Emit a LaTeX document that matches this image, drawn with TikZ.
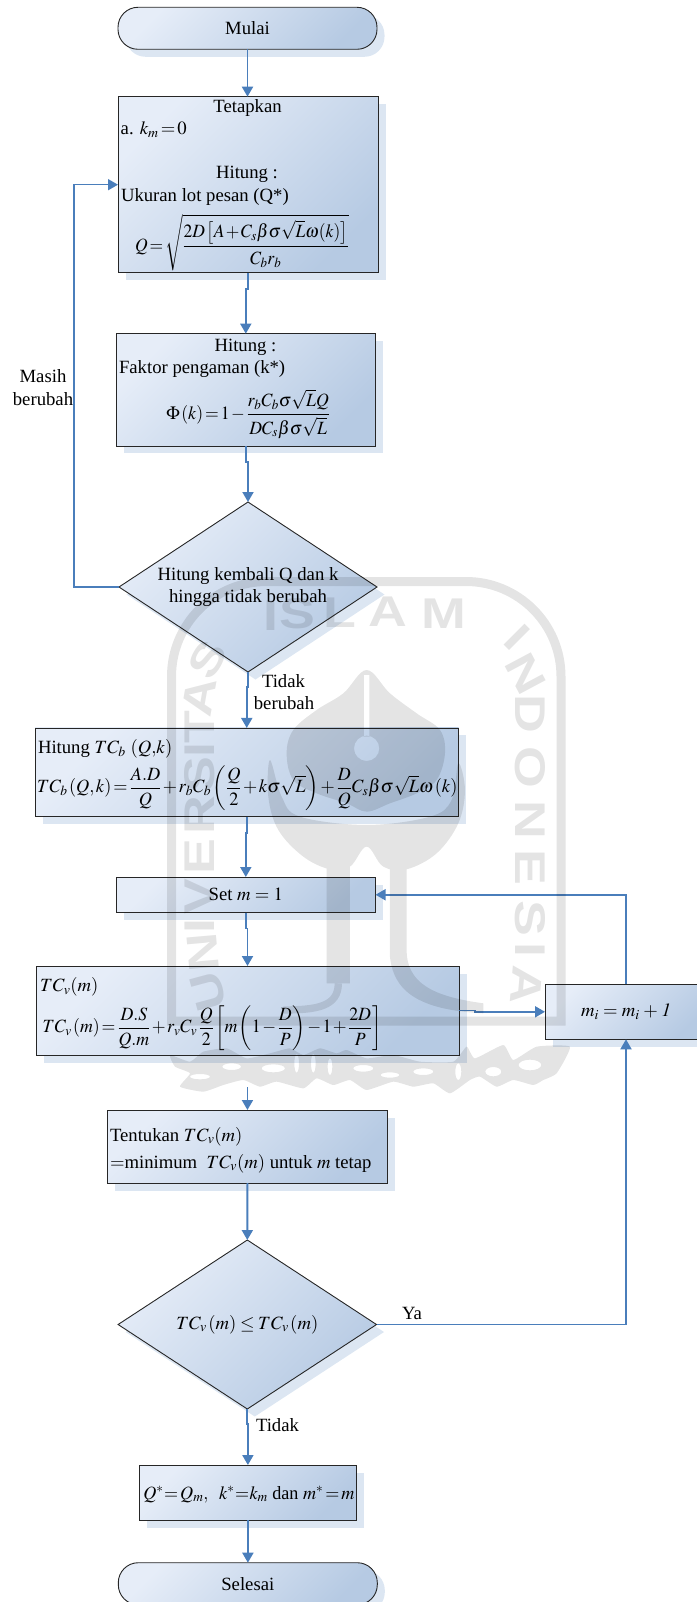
\documentclass[tikz,border=0pt]{standalone}
\usepackage{amsmath}
\usepackage{mathptmx}
\usepackage[no-math]{fontspec}
\setmainfont{Liberation Serif}
\newfontfamily\wmfont[FakeStretch=1.25]{Liberation Sans}
\usetikzlibrary{arrows.meta,shapes.geometric,shadows}
\thinmuskip=1.5mu
\medmuskip=1.5mu
\thickmuskip=2mu
\definecolor{flowline}{HTML}{4A7EBB}
\definecolor{fillA}{HTML}{E6EDF8}
\definecolor{fillB}{HTML}{BED0E7}
\definecolor{fillC}{HTML}{B6CAE3}
\definecolor{shadowblue}{HTML}{DCE6F2}
\tikzset{
  flowshape/.style={draw=black!85,line width=0.9pt,inner sep=0pt,outer sep=0pt,
    top color=fillA,middle color=fillB,bottom color=fillC,shading angle=45,
    general shadow={shadow xshift=7.5pt,shadow yshift=-7.5pt,fill=shadowblue,opacity=1}},
  flowbox/.style={flowshape,rectangle},
  flowterm/.style={flowshape,rectangle,rounded corners=20pt},
  flowdec/.style={flowshape,diamond},
  flowarrow/.style={draw=flowline,line width=1.9pt,-{Triangle[width=11pt,length=10pt]}},
  flowtxt/.style={inner sep=0pt,outer sep=0pt,font=\fontsize{18.7}{22}\selectfont},
  tl/.style={flowtxt,anchor=base west},
  tc/.style={flowtxt,anchor=base},
  fm/.style={flowtxt,anchor=west},
  wml/.style={inner sep=0pt,font=\wmfont\bfseries\fontsize{43}{43}\selectfont,text=black},
}
\begin{document}
\begin{tikzpicture}[x=1pt,y=-1pt]
\useasboundingbox (0,0) rectangle (696,1602);
% shapes
\node[flowterm,minimum width=259pt,minimum height=42pt,font=\fontsize{18.7}{22}\selectfont] (mulai) at (247.5,28.3) {Mulai};
\node[flowbox,minimum width=260pt,minimum height=176pt] (b1) at (248,184.7) {};
\node[flowbox,minimum width=259.5pt,minimum height=112.3pt] (b2) at (245.8,389.8) {};
\node[flowdec,minimum width=258pt,minimum height=170pt,shape aspect=1.518,align=center,font=\fontsize{18.7}{22}\selectfont] (d1) at (248,587) {Hitung kembali Q dan k\\hingga tidak berubah};
\node[flowbox,minimum width=423.5pt,minimum height=88.7pt] (b3) at (246.75,772.3) {};
\node[flowbox,minimum width=259.5pt,minimum height=35.5pt,font=\fontsize{18.7}{22}\selectfont] (setm) at (245.8,894.75) {Set $m\;=\;1$};
\node[flowbox,minimum width=423pt,minimum height=89pt] (tcv) at (247.5,1010.5) {};
\node[flowbox,minimum width=162pt,minimum height=55pt,font=\fontsize{18.7}{22}\selectfont] (mi) at (626,1011.8) {$m_i\;=\;m_i\;+\;\mathit{1}$};
\node[flowbox,minimum width=280pt,minimum height=73pt] (tm) at (247.45,1146.5) {};
\node[flowdec,minimum width=258.4pt,minimum height=169pt,shape aspect=1.529,font=\fontsize{18.7}{22}\selectfont] (d2) at (247.3,1324.5) {$TC_v\,(m)\,\le\, TC_v\,(m)$};
\node[flowbox,minimum width=217pt,minimum height=55pt] (res) at (247.9,1492.5) {};
\node[flowterm,minimum width=259pt,minimum height=42pt,font=\fontsize{18.7}{22}\selectfont] (sel) at (247.8,1583.7) {Selesai};
% box texts
\node[tc] (t1) at (247.5,113) {Tetapkan};
\node[tl] (t2) at (120.7,135) {a. $k_m=0$};
\node[tc] (t3) at (247,179) {Hitung :};
\node[tl] (t4) at (121,201.7) {Ukuran lot pesan (Q*)};
\node[fm] (f1) at (135,242.7) {\scalebox{0.935}[1]{$Q=\sqrt{\dfrac{2D\left[A+C_s\beta\sigma\sqrt{L}\omega(k)\right]}{C_br_b}}$}};
\node[tc] (t5) at (245.5,351) {Hitung :};
\node[tl] (t6) at (119,373) {Faktor pengaman (k*)};
\node[fm] (f2) at (166.4,414) {\scalebox{0.945}[1]{$\Phi\left(k\right)=1-\dfrac{r_bC_b\sigma\sqrt{L}Q}{DC_s\beta\sigma\sqrt{L}}$}};
\node[tl] (t7) at (38,753.3) {Hitung $TC_b$ $(Q{,}k)$};
\node[fm] (f3) at (37,788) {\scalebox{0.977}[1]{$TC_b\left(Q,k\right)=\dfrac{A.D}{Q}+r_bC_b\left(\dfrac{Q}{2}+k\sigma\sqrt{L}\right)+\dfrac{D}{Q}C_s\beta\sigma\sqrt{L}\omega\left(k\right)$}};
\node[tl] (t8) at (40,991.7) {$TC_v(m)$};
\node[fm] (f4) at (42.7,1028) {\scalebox{0.95}[1]{$TC_v\left(m\right)=\dfrac{D.S}{Q.m}+r_vC_v\,\dfrac{Q}{2}\left[m\left(1-\dfrac{D}{P}\right)-1+\dfrac{2D}{P}\right]$}};
\node[tl] (t9) at (110,1141) {Tentukan $TC_v(m)$};
\node[tl] (t10) at (110,1168) {$=$minimum\ \ $TC_v(m)$ untuk $m$ tetap};
\node[tl] (t11) at (143.4,1499) {\scalebox{0.968}[1]{$Q^*\!=Q_m,\ \ k^*\!=\!k_m$ dan $m^*=m$}};
% connector labels
\node[tc] (l1) at (43,382.7) {Masih};
\node[tc] (l2) at (43,405) {berubah};
\node[tc] (l3) at (283.5,687.7) {Tidak};
\node[tc] (l4) at (284,709) {berubah};
\node[tc] (l5) at (412,1319) {Ya};
\node[tl] (l6) at (256,1431) {Tidak};
% connectors
\coordinate (fb) at (74,587);
\coordinate (gap) at (247.45,1087);
\draw[flowarrow] (mulai.south) -- (mulai.south |- b1.north);
\draw[flowarrow] (b1.south) -- ++(0,16) -| (b2.north);
\draw[flowarrow] (b2.south) -- ++(0,16) -| (d1.north);
\draw[flowarrow,line width=1.6pt] (d1.west) -- (fb) |- (b1.west);
\draw[flowarrow] (d1.south) -- ++(0,15) -| (b3.north);
\draw[flowarrow] (b3.south) -- ++(0,16) -| (setm.north);
\draw[flowarrow] (setm.south) -- ++(0,16) -| (tcv.north);
\draw[flowarrow] (tcv.east) -- ++(16,0) |- (mi.west);
\draw[flowarrow] (mi.north) |- (setm.east);
\draw[flowarrow] (gap) -- (tm.north);
\draw[flowarrow] (tm.south) -- (d2.north);
\draw[flowarrow] (d2.south) -- ++(0,15) -| (res.north);
\draw[flowarrow] (res.south) -- (res.south |- sel.north);
\draw[flowarrow] (d2.east) -| (mi.south);
% watermark
\begin{scope}[transparency group,opacity=.105]
  \draw[line width=9pt,black] (171.5,1021) [rounded corners=95pt] -- (171.5,581.5) -- (561,581.5) [sharp corners] -- (561,1021) -- cycle;
  \node[wml] (wi1) at (271,616) {I};
  \node[wml] (ws1) at (297,614) {S};
  \node[wml] (wl1) at (340,613) {L};
  \node[wml] (wa1) at (388,612) {A};
  \node[wml] (wm1) at (444,614) {M};
  \node[wml,rotate=-45] (wi2) at (517,637) {I};
  \node[wml,rotate=-62] (wn2) at (526,674) {N};
  \node[wml,rotate=-90] (wd2) at (530,714) {D};
  \node[wml,rotate=-90] (wo2) at (530,767) {O};
  \node[wml,rotate=-90] (wn3) at (530,820) {N};
  \node[wml,rotate=-90] (we2) at (530,867) {E};
  \node[wml,rotate=-90] (ws2) at (530,918) {S};
  \node[wml,rotate=-90] (wi3) at (530,950) {I};
  \node[wml,rotate=-95] (wa2) at (527,985) {A};
  \node[wml,rotate=60] (ws3) at (208,660) {S};
  \node[wml,rotate=80] (wa3) at (199,697) {A};
  \node[wml,rotate=90] (wt3) at (200,727) {T};
  \node[wml,rotate=90] (wi4) at (200,750) {I};
  \node[wml,rotate=90] (ws4) at (200,775) {S};
  \node[wml,rotate=90] (wr4) at (200,815) {R};
  \node[wml,rotate=90] (we4) at (200,857) {E};
  \node[wml,rotate=90] (wv4) at (200,897) {V};
  \node[wml,rotate=90] (wi5) at (200,926) {I};
  \node[wml,rotate=95] (wn5) at (203,952) {N};
  \node[wml,rotate=105] (wu5) at (208,992) {U};
  \begin{scope}[shift={(150,590)},x=0.3333pt,y=-0.3333pt]
    \fill[even odd rule,black] plot[smooth cycle,tension=.6] coordinates {(650,240) (720,310) (800,370) (870,420) (885,490) (860,570) (800,610) (720,640) (650,665) (590,640) (500,610) (430,570) (410,490) (430,420) (500,360) (580,310)}
      (650,475) circle[radius=38] (642,255) rectangle (658,440);
    \fill[black] plot[smooth cycle,tension=.6] coordinates {(360,510) (355,620) (385,720) (460,800) (540,838) (600,830) (650,770) (700,830) (770,838) (860,790) (925,700) (945,600) (925,520) (905,630) (840,680) (650,705) (450,680) (395,620)};
    \fill[black] (530,830) rectangle (600,1180);
    \fill[black] (770,830) -- (720,830) -- (720,1100) .. controls (730,1200) and (800,1260) .. (1000,1270) -- (1000,1240) .. controls (850,1220) and (770,1180) .. (770,1080) -- cycle;
    \draw[line width=7.3pt,black] (565,1180) .. controls (565,1250) and (500,1260) .. (400,1260);
  \end{scope}
  \begin{scope}[shift={(160,1030)},x=0.3333pt,y=-0.3333pt]
    \fill[even odd rule,black] plot[smooth cycle,tension=.3] coordinates {(30,75) (90,95) (130,65) (200,55) (260,85) (330,70) (390,55) (430,75) (480,55) (530,70) (560,60) (620,85) (700,75) (780,95) (880,95) (920,50) (945,85) (1030,45) (1060,90) (1130,50) (1230,50) (1190,130) (1150,150) (1120,165) (1060,150) (1010,170) (960,140) (930,150) (870,190) (820,160) (760,170) (700,155) (620,180) (570,150) (520,165) (470,145) (430,175) (350,155) (300,170) (250,150) (190,165) (130,185) (60,170) (90,130) (45,110)}
      (120,140) ellipse[x radius=30,y radius=8]
      (215,110) ellipse[x radius=28,y radius=10]
      (340,115) ellipse[x radius=35,y radius=12]
      (410,100) ellipse[x radius=7,y radius=28]
      (460,100) ellipse[x radius=7,y radius=28]
      (510,110) ellipse[x radius=7,y radius=25]
      (610,115) ellipse[x radius=30,y radius=10]
      (690,135) ellipse[x radius=28,y radius=8]
      (790,125) ellipse[x radius=30,y radius=10]
      (895,125) ellipse[x radius=9,y radius=25]
      (1000,125) ellipse[x radius=24,y radius=14]
      (1110,105) ellipse[x radius=34,y radius=16];
  \end{scope}
\end{scope}
\end{tikzpicture}
\end{document}
